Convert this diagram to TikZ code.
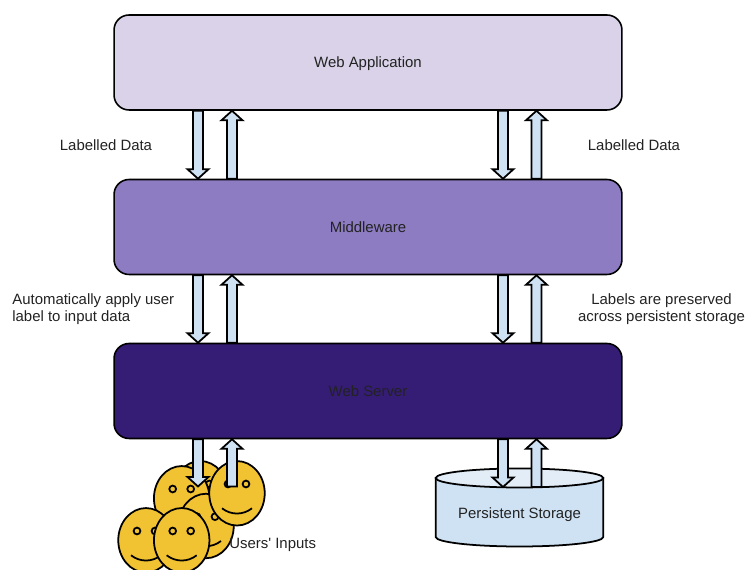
\documentclass[tikz,border=0pt]{standalone}
\usepackage{fontspec}
\setmainfont{Liberation Sans}
\newfontfamily\straightfont{Liberation Sans}
\usetikzlibrary{shapes.geometric}
\usetikzlibrary{positioning}
\usetikzlibrary{calc}
\definecolor{applayer}{HTML}{D9D2E9}
\definecolor{midlayer}{HTML}{8E7CC3}
\definecolor{srvlayer}{HTML}{351C75}
\definecolor{flowblue}{HTML}{CFE2F3}
\definecolor{storetop}{HTML}{E3EDF7}
\definecolor{facegold}{HTML}{F1C232}
\definecolor{inktext}{HTML}{222222}
\begin{document}
\begin{tikzpicture}[x=0.02cm,y=-0.02cm,font=\fontsize{8.5pt}{9.7pt}\selectfont,text=inktext]
\tikzset{layer/.style={rectangle, draw=black, line width=0.9pt, rounded corners=0.3cm,
minimum width=10.16cm, minimum height=1.9cm, text height=7pt, text depth=1pt}}
\tikzset{note/.style={align=left, inner sep=0pt}}
\tikzset{face/.style={ellipse, draw=black, line width=1pt, fill=facegold,
minimum width=1.11cm, minimum height=1.29cm, inner sep=0pt}}
\tikzset{eye/.style={draw=black, line width=1pt, fill=facegold}}
\tikzset{drum/.style={draw=black, line width=1pt}}
\tikzset{flow/.style={draw=black, line width=1pt, fill=flowblue, line join=miter,
to path={let \p1=(\tikztostart), \p2=(\tikztotarget),
\p3=($(\tikztotarget)!0.19cm!(\tikztostart)$) in
(\x1-0.1cm,\y1) -- (\x3-0.1cm,\y3) -- (\x3-0.21cm,\y3) -- (\x2,\y2) --
(\x3+0.21cm,\y3) -- (\x3+0.1cm,\y3) -- (\x1+0.1cm,\y1) -- cycle}}}
\useasboundingbox (0,0) rectangle (745,570);
% layers
\node [layer, fill=applayer] (app) at (368,62.5) {Web Application};
\node [layer, fill=midlayer] (mid) at (368,227) {Middleware};
\node [layer, fill=srvlayer] (srv) at (368,391) {Web Server};
% storage
\draw [drum, fill=flowblue] (435.7,478) -- (435.7,537) arc[start angle=180, end angle=360, x radius=1.676cm, y radius=0.19cm]
  -- (603.3,478) -- cycle;
\draw [drum, fill=storetop] (519.5,478) ellipse[x radius=1.676cm, y radius=0.19cm];
\node [note] (store) at (519.5,514.5) {Persistent Storage};
% faces
\foreach \fname/\fx/\fy in {facea/200.3/493.3, faceb/181.7/498.3, facec/206/526,
  faced/237/493.3, facee/146/540.3, facef/181.7/540.3}
{
\node [face] (\fname) at (\fx,\fy) {};
\draw [eye] ($(\fname)+(-9,-9.3)$) circle (0.068cm);
\draw [eye] ($(\fname)+(9,-9.3)$) circle (0.068cm);
\draw [line width=1pt] ($(\fname)+(-15,15)$) .. controls ($(\fname)+(-6,22)$) and ($(\fname)+(6,22)$) .. ($(\fname)+(15,15)$);
}
% labels
\node [note] (labela) at (106,145) {Labelled Data};
\node [note] (labelb) at (634,145) {Labelled Data};
\node [note, anchor=west] (labelc) at (12,309.5) {Automatically apply user\\label to input data};
\node [note, align=center] (labeld) at (661.5,309.5) {Labels are preserved\\across persistent storage};
\node [note, anchor=west] (labele) at (229,544.5) {Users{\straightfont '} Inputs};
% free ends and arrow columns
\coordinate (cola) at (198,0);
\coordinate (colb) at (232,0);
\coordinate (colc) at (503,0);
\coordinate (cold) at (536.5,0);
\coordinate (userin) at (198,486.5);
\coordinate (userout) at (232,486.5);
\coordinate (storein) at (503,487);
\coordinate (storeout) at (536.5,487);
% arrows
\draw [flow] (app.south -| cola) to (mid.north -| cola);
\draw [flow] (mid.north -| colb) to (app.south -| colb);
\draw [flow] (app.south -| colc) to (mid.north -| colc);
\draw [flow] (mid.north -| cold) to (app.south -| cold);
\draw [flow] (mid.south -| cola) to (srv.north -| cola);
\draw [flow] (srv.north -| colb) to (mid.south -| colb);
\draw [flow] (mid.south -| colc) to (srv.north -| colc);
\draw [flow] (srv.north -| cold) to (mid.south -| cold);
\draw [flow] (srv.south -| cola) to (userin);
\draw [flow] (userout) to (srv.south -| colb);
\draw [flow] (srv.south -| colc) to (storein);
\draw [flow] (storeout) to (srv.south -| cold);
\end{tikzpicture}
\end{document}
